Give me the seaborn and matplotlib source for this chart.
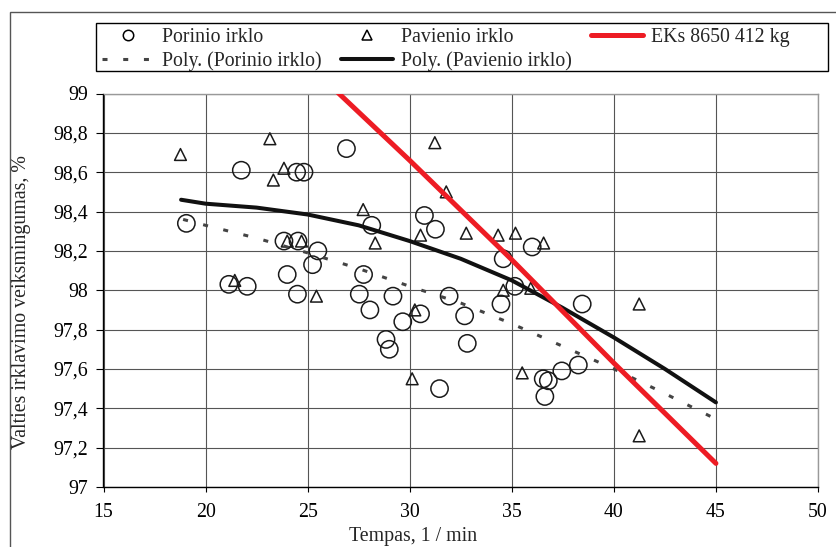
import matplotlib
matplotlib.use("Agg")
import matplotlib.pyplot as plt
import seaborn as sns
from matplotlib.lines import Line2D
from matplotlib.patches import Rectangle

# ---- data ----
por_x = [19.06, 21.75, 24.46, 24.82, 26.90, 30.72, 28.14, 31.26, 23.84, 24.53,
         25.50, 25.24, 24.00, 27.74, 21.14, 22.04, 24.50, 27.53, 29.18, 31.93,
         28.05, 30.53, 32.69, 29.66, 28.84, 29.00, 32.82, 31.46, 34.58, 36.00,
         35.15, 34.47, 38.45, 36.54, 36.79, 37.45, 38.26, 36.62]
por_y = [98.34, 98.61, 98.60, 98.60, 98.72, 98.38, 98.33, 98.31, 98.25, 98.25,
         98.20, 98.13, 98.08, 98.08, 98.03, 98.02, 97.98, 97.98, 97.97, 97.97,
         97.90, 97.88, 97.87, 97.84, 97.75, 97.70, 97.73, 97.50, 98.16, 98.22,
         98.02, 97.93, 97.93, 97.55, 97.54, 97.59, 97.62, 97.46]

pav_x = [18.77, 23.15, 23.84, 23.32, 31.23, 31.79, 27.72, 30.53, 32.77, 28.31,
         24.00, 24.70, 21.43, 25.43, 30.25, 34.33, 35.18, 36.56, 34.58, 35.93,
         30.12, 35.51, 41.24, 41.24]
pav_y = [98.69, 98.77, 98.62, 98.56, 98.75, 98.50, 98.41, 98.28, 98.29, 98.24,
         98.25, 98.25, 98.05, 97.97, 97.90, 98.28, 98.29, 98.24, 98.00, 98.01,
         97.55, 97.58, 97.93, 97.26]

eks_x = [25, 30, 35, 40, 45]
eks_y = [99.15, 98.66, 98.155, 97.63, 97.12]

poly_por_x = [18.9, 20, 22.5, 25, 27.5, 30, 32.5, 35, 37.5, 40, 42.5, 45]
poly_por_y = [98.36, 98.33, 98.265, 98.19, 98.11, 98.02, 97.935, 97.83, 97.715, 97.60, 97.475, 97.345]

poly_pav_x = [18.8, 20, 22.5, 25, 27.5, 30, 32.5, 35, 37.5, 40, 42.5, 45]
poly_pav_y = [98.46, 98.44, 98.42, 98.385, 98.33, 98.25, 98.16, 98.05, 97.91, 97.76, 97.60, 97.43]

x_ticks = [15, 20, 25, 30, 35, 40, 45, 50]
y_ticks = [97, 97.2, 97.4, 97.6, 97.8, 98, 98.2, 98.4, 98.6, 98.8, 99]
y_tick_labels = ["97", "97,2", "97,4", "97,6", "97,8", "98", "98,2", "98,4", "98,6", "98,8", "99"]

lbl_por = "Porinio irklo"
lbl_pav = "Pavienio irklo"
lbl_eks = "EKs 8650 412 kg"
lbl_poly_por = "Poly. (Porinio irklo)"
lbl_poly_pav = "Poly. (Pavienio irklo)"
x_label = "Tempas, 1 / min"
y_label = "Valties irklavimo veiksmingumas, %"

# ---- style ----
FS = 14.3
sns.set_theme(style="white")
plt.rcParams['font.family'] = ['Liberation Serif', 'DejaVu Serif']
plt.rcParams['font.size'] = FS

W, H = 837, 547
fig = plt.figure(figsize=(W / 100, H / 100), dpi=100)
fig.patch.set_facecolor("white")
ax = fig.add_axes([103.5 / W, 1 - 487 / H, (818 - 103.5) / W, (487 - 93.5) / H])
ax.set_facecolor("white")

# outer chart border
fig.patches.append(Rectangle((10 / W, -0.1), 1.2, 1 - 12 / H + 0.1,
                             transform=fig.transFigure, fill=False,
                             edgecolor="#555555", linewidth=1.0))
# legend frame
fig.patches.append(Rectangle((96 / W, 1 - 71 / H), (828 - 96) / W, 48 / H,
                             transform=fig.transFigure, fill=True,
                             facecolor="white", edgecolor="black", linewidth=1.0))

# scatter points
sns.scatterplot(x=por_x, y=por_y, marker="o", s=155, color="black",
                edgecolor="#1a1a1a", linewidth=1.1, ax=ax, zorder=3)
ax.collections[-1].set_facecolor("none")
sns.scatterplot(x=pav_x, y=pav_y, marker="^", s=72, color="black",
                edgecolor="#1a1a1a", linewidth=1.1, ax=ax, zorder=3)
ax.collections[-1].set_facecolor("none")

# trend lines
sns.lineplot(x=poly_por_x, y=poly_por_y, ax=ax, color="#444444", linewidth=2.2,
             estimator=None, sort=False, zorder=4)
ax.lines[-1].set_linestyle((0, (1.64, 5.14)))
ax.lines[-1].set_dash_capstyle("butt")
sns.lineplot(x=poly_pav_x, y=poly_pav_y, ax=ax, color="#111111", linewidth=2.9,
             estimator=None, sort=False, zorder=4)
sns.lineplot(x=eks_x, y=eks_y, ax=ax, color="#ed1c24", linewidth=3.6,
             estimator=None, sort=False, zorder=5)
ax.lines[-1].set_solid_capstyle("round")

# axes
ax.set_xlim(15, 50)
ax.set_ylim(97, 99)
ax.set_xticks(x_ticks)
ax.set_xticklabels([str(t) for t in x_ticks])
ax.set_yticks(y_ticks)
ax.set_yticklabels(y_tick_labels)
ax.set_axisbelow(True)
ax.grid(True, color="#555555", linewidth=0.8)
ax.tick_params(axis="y", left=True, direction="out", length=5.4, width=0.8,
               pad=5.6, labelsize=FS, colors="black")
ax.tick_params(axis="x", bottom=True, direction="out", length=3.6, width=0.8,
               pad=8, labelsize=FS, colors="black")
for s in ["left", "bottom"]:
    ax.spines[s].set_color("black")
    ax.spines[s].set_linewidth(1.0)
for s in ["top", "right"]:
    ax.spines[s].set_color("#999999")
    ax.spines[s].set_linewidth(1.0)

ax.set_xlabel(x_label, fontsize=FS)
ax.xaxis.set_label_coords((413 - 103.5) / 714.5, (487 - 537) / 393.5)
ax.xaxis.label.set_va("center")
ax.set_ylabel(y_label, fontsize=FS)
ax.yaxis.set_label_coords((22 - 103.5) / 714.5, (487 - 302) / 393.5)
ax.yaxis.label.set_va("center")
ax.yaxis.label.set_ha("center")

# legend
h_por = Line2D([], [], linestyle="none", marker="o", markersize=7.5,
               markerfacecolor="none", markeredgecolor="black", markeredgewidth=1.1)
h_pav = Line2D([], [], linestyle="none", marker="^", markersize=7,
               markerfacecolor="none", markeredgecolor="black", markeredgewidth=1.1)
h_eks = Line2D([], [], color="#ed1c24", linewidth=3.6)
h_ppor = Line2D([], [], color="#444444", linewidth=2.2, linestyle=(0, (1.64, 5.14)))
h_ppav = Line2D([], [], color="#111111", linewidth=2.9)
leg = fig.legend([h_por, h_ppor, h_pav, h_ppav, h_eks],
                 [lbl_por, lbl_poly_por, lbl_pav, lbl_poly_pav, lbl_eks],
                 ncol=3, loc="upper left",
                 bbox_to_anchor=(99 / W, 1 - 25 / H),
                 bbox_transform=fig.transFigure,
                 borderaxespad=0, fontsize=FS, handlelength=2.6,
                 handletextpad=0.4, labelspacing=0.22, borderpad=0.15,
                 columnspacing=1.0, frameon=False)

fig.savefig("out.png", dpi=100)
